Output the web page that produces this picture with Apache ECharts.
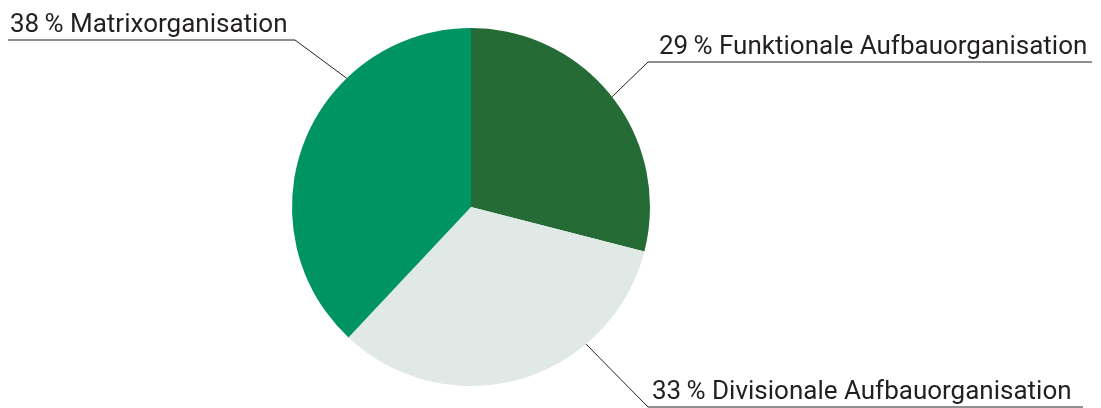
<!DOCTYPE html>
<html>
<head>
<meta charset="utf-8">
<script src="https://cdn.jsdelivr.net/npm/echarts@6/dist/echarts.min.js"></script>
<style>
  html, body { margin: 0; padding: 0; background: #fff; }
  #chart { width: 1101px; height: 408px; }
</style>
</head>
<body>
<div id="chart"></div>
<script>
// Organisationsformen – Anteile
const names = ['Funktionale Aufbauorganisation', 'Divisionale Aufbauorganisation', 'Matrixorganisation'];
const values = [29, 33, 38];
const colors = ['#246b35', '#e0e9e6', '#009462'];

// pie geometry
const cx = 471, cy = 207, r = 179;
// where each label line leaves the pie (deg, clockwise from 12 o'clock), elbow, end of underline, text x
const spots = [
    { angle: 52, elbow: [648, 62], endX: 1092, textX: 659 },
    { angle: 140, elbow: [648, 407], endX: 1083, textX: 652 },
    { angle: 316, elbow: [295, 40], endX: 8, textX: 10 }
];

const chart = echarts.init(document.getElementById('chart'));
chart.setOption({
    animation: false,
    series: [{
        type: 'pie',
        center: [cx, cy],
        radius: r,
        startAngle: 90,
        clockwise: true,
        data: names.map((n, i) => ({ name: n, value: values[i], itemStyle: { color: colors[i] } })),
        label: {
            show: true,
            formatter: p => p.value + '\u2009% ' + p.name,
            color: '#231f20',
            fontSize: 26,
            fontFamily: 'Roboto',
            overflow: 'none'
        },
        labelLine: {
            show: true,
            lineStyle: { color: '#231f20', width: 1 }
        },
        labelLayout: params => {
            const s = spots[params.dataIndex];
            const a = s.angle * Math.PI / 180;
            const p0 = [cx + r * Math.sin(a), cy - r * Math.cos(a)];
            return {
                x: s.textX,
                y: s.elbow[1] - 2,
                align: 'left',
                verticalAlign: 'bottom',
                labelLinePoints: [p0, s.elbow, [s.endX, s.elbow[1]]]
            };
        }
    }]
});
</script>
</body>
</html>
